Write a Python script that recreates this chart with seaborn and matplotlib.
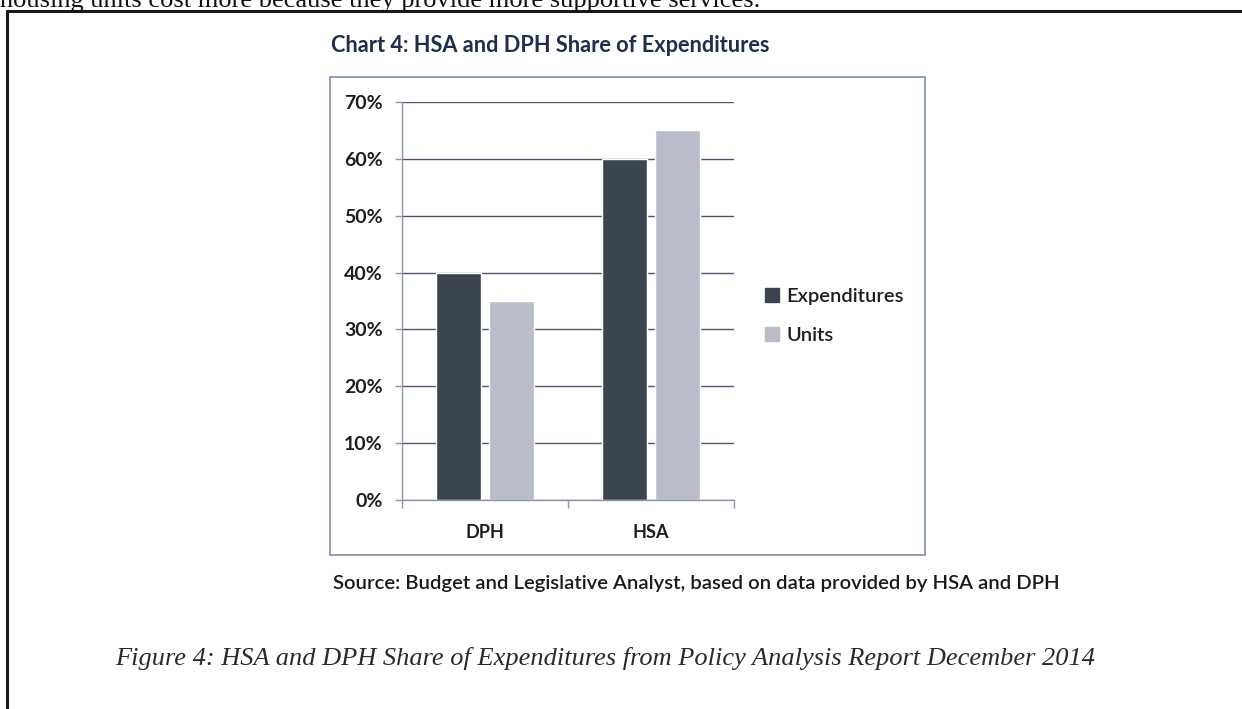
import matplotlib
matplotlib.use("Agg")
import matplotlib.pyplot as plt
from matplotlib.patches import Rectangle
from matplotlib.lines import Line2D
from matplotlib.ticker import PercentFormatter, FixedLocator
import seaborn as sns
import pandas as pd

# ---- data ----
categories = ["DPH", "HSA"]
series_names = ["Expenditures", "Units"]
expenditures = [40, 60]
units = [35, 65]
y_ticks = [0, 10, 20, 30, 40, 50, 60, 70]

title_text = "Chart 4: HSA and DPH Share of Expenditures"
source_text = "Source: Budget and Legislative Analyst, based on data provided by HSA and DPH"
caption_text = "Figure 4: HSA and DPH Share of Expenditures from Policy Analysis Report December 2014"
top_text = "housing units cost more because they provide more supportive services."

df = pd.DataFrame({
    "Agency": categories * 2,
    "Series": [series_names[0]] * len(categories) + [series_names[1]] * len(categories),
    "Share": expenditures + units,
})

sns.set_theme(style="white")
plt.rcParams["font.family"] = ["Lato", "DejaVu Sans"]

W, H = 1242, 709
fig = plt.figure(figsize=(W / 100, H / 100), dpi=100)
fig.patch.set_facecolor("white")

def fx(px):
    return px / W

def fy(py):
    return 1 - py / H

# axes placement
ax = fig.add_axes([fx(402), fy(500), fx(734) - fx(402), fy(102) - fy(500)])

palette = {"Expenditures": "#3b4550", "Units": "#b9bcc9"}
sns.barplot(data=df, x="Agency", y="Share", hue="Series", order=categories,
            hue_order=series_names, palette=palette, width=0.64, gap=0.15,
            saturation=1, legend=False, ax=ax)

ax.set_ylim(0, 70)
ax.set_xlim(-0.5, 1.5)
ax.set_yticks(y_ticks)
ax.yaxis.set_major_formatter(PercentFormatter(100, decimals=0))
ax.set_xlabel("")
ax.set_ylabel("")
ax.yaxis.grid(True, color="#4a586b", linewidth=1.0)
ax.set_axisbelow(True)
for s in ["top", "right"]:
    ax.spines[s].set_visible(False)
ax.spines["left"].set_color("#8e96a4")
ax.spines["left"].set_linewidth(1.0)
ax.spines["bottom"].set_color("#8e96a4")
ax.spines["bottom"].set_linewidth(1.0)

ax.tick_params(axis="y", which="major", left=True, length=5, width=1, color="#8e96a4",
               labelsize=14, labelcolor="#1e1e1e", pad=9)
ax.tick_params(axis="x", which="major", bottom=False, labelsize=13,
               labelcolor="#1e1e1e", pad=11)
ax.xaxis.set_minor_locator(FixedLocator([-0.5, 0.5, 1.5]))
ax.tick_params(axis="x", which="minor", bottom=True, length=6, width=1, color="#8e96a4")
for lab in ax.get_yticklabels() + ax.get_xticklabels():
    lab.set_fontweight("bold")

# legend
handles = [Line2D([0], [0], marker="s", linestyle="", markersize=10,
                  markerfacecolor=palette[n], markeredgecolor=palette[n]) for n in series_names]
fig.legend(handles, series_names, loc="center left",
           bbox_to_anchor=(fx(744), fy(316)), frameon=False,
           handletextpad=0.2, labelspacing=1.05, handlelength=1.0,
           labelcolor="#1e1e1e", prop={"weight": "semibold", "size": 14.5})

# chart box
fig.add_artist(Rectangle((fx(330), fy(555)), fx(925) - fx(330), fy(77) - fy(555),
                         transform=fig.transFigure, fill=False,
                         edgecolor="#7f8fa8", linewidth=1.2))

# chart title
fig.text(fx(331), fy(45), title_text, ha="left", va="center", fontsize=15.7,
         fontweight="bold", color="#1f2f4a")

# source note
fig.text(fx(333), fy(583), source_text, ha="left", va="center", fontsize=14.6,
         fontweight="semibold", color="#1a1a1a")

# document caption
fig.text(fx(115), fy(658), caption_text, ha="left", va="center", fontsize=19,
         style="italic", color="#2a2a2a", family=["Liberation Serif", "DejaVu Serif"])

# document text cut at top (as in the scanned page)
fig.text(fx(0), fy(1), top_text, ha="left", va="center", fontsize=19,
         color="#111111", family=["Liberation Serif", "DejaVu Serif"])

# outer document box
fig.add_artist(Line2D([fx(7), fx(1242)], [fy(11), fy(11)], transform=fig.transFigure,
                      color="#1a1a1a", linewidth=2.2))
fig.add_artist(Line2D([fx(7), fx(7)], [fy(11), fy(709)], transform=fig.transFigure,
                      color="#1a1a1a", linewidth=2.2))

fig.savefig("out.png", dpi=100, facecolor="white")
